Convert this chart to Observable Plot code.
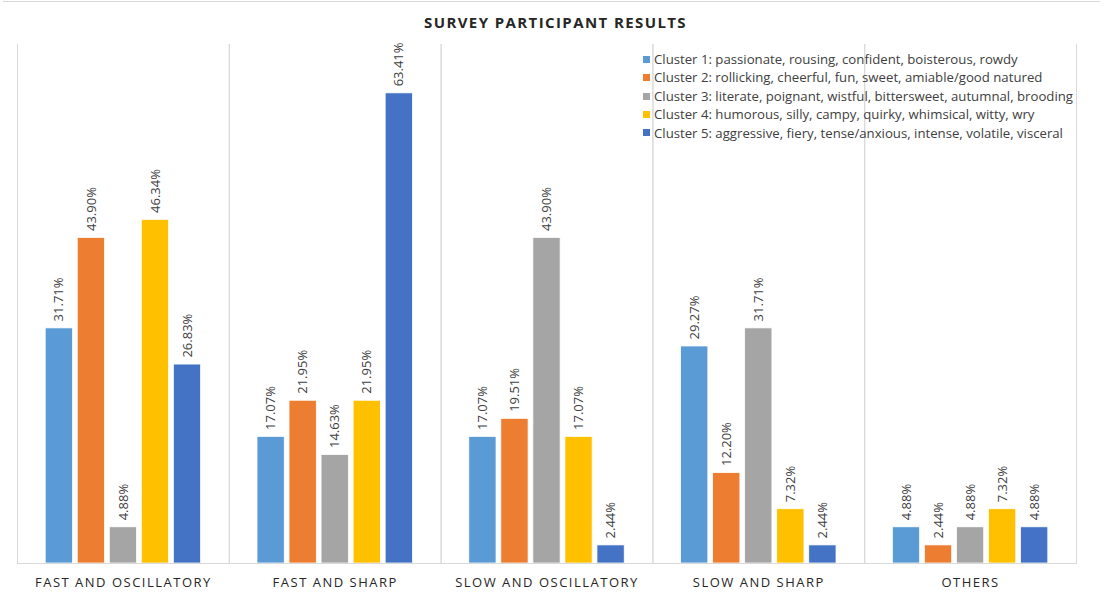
<!DOCTYPE html>
<html>
<head>
<meta charset="utf-8">
<script src="https://cdn.jsdelivr.net/npm/d3@7"></script>
<script src="https://cdn.jsdelivr.net/npm/@observablehq/plot@0.6"></script>
<style>
  html, body { margin: 0; padding: 0; background: #fff; }
  #chart { position: relative; width: 1111px; height: 594px; font-family: "Open Sans", sans-serif; color: #404040; }
  #chart .topline { position: absolute; left: 3px; top: 1px; width: 1097px; border-top: 1px solid #d9d9d9; }
  #chart h1 { margin: 0; height: 40px; line-height: 45px; text-align: center; font-size: 15px; font-weight: 700; letter-spacing: 1.4px; color: #262626; }
  #chart svg { display: block; }
  #chart g[aria-label="fx-axis tick label"] text { letter-spacing: 1.5px; }
  #legend { position: absolute; left: 643px; top: 50px; font-size: 13.2px; line-height: 18.4px; color: #404040; }
  #legend .row { display: flex; align-items: center; white-space: nowrap; }
  #legend .sw { width: 7px; height: 7px; margin-right: 4px; flex: none; }
</style>
</head>
<body>
<div id="chart">
  <div class="topline"></div>
  <h1>SURVEY PARTICIPANT RESULTS</h1>
  <div id="legend"></div>
</div>
<script>
// Movement categories along the x axis
const groups = ["FAST AND OSCILLATORY", "FAST AND SHARP", "SLOW AND OSCILLATORY", "SLOW AND SHARP", "OTHERS"];

// Descriptor clusters (series)
const clusters = [
  "Cluster 1: passionate, rousing, confident, boisterous, rowdy",
  "Cluster 2: rollicking, cheerful, fun, sweet, amiable/good natured",
  "Cluster 3: literate, poignant, wistful, bittersweet, autumnal, brooding",
  "Cluster 4: humorous, silly, campy, quirky, whimsical, witty, wry",
  "Cluster 5: aggressive, fiery, tense/anxious, intense, volatile, visceral"
];

const colors = ["#5B9BD5", "#ED7D31", "#A5A5A5", "#FFC000", "#4472C4"];

// Percent of participants per movement category, one array per cluster
const cluster1 = [31.71, 17.07, 17.07, 29.27, 4.88];
const cluster2 = [43.90, 21.95, 19.51, 12.20, 2.44];
const cluster3 = [4.88, 14.63, 43.90, 31.71, 4.88];
const cluster4 = [46.34, 21.95, 17.07, 7.32, 7.32];
const cluster5 = [26.83, 63.41, 2.44, 2.44, 4.88];

const series = [cluster1, cluster2, cluster3, cluster4, cluster5];
const data = groups.flatMap((group, gi) =>
  clusters.map((cluster, ci) => ({group, cluster, value: series[ci][gi]}))
);

const fmt = d3.format(".2f");

const plot = Plot.plot({
  width: 1111,
  height: 554,
  marginTop: 4,
  marginBottom: 31,
  marginLeft: 17,
  marginRight: 35,
  style: {fontFamily: "'Open Sans', sans-serif", fontSize: "13px", color: "#404040", background: "white"},
  fx: {domain: groups, padding: 0, round: false, label: null},
  x: {domain: clusters, axis: null, round: false, paddingInner: 0.15, paddingOuter: 0.88},
  y: {domain: [0, 70], axis: null},
  color: {domain: clusters, range: colors},
  marks: [
    Plot.frame({anchor: "left", stroke: "#d9d9d9"}),
    Plot.frame({anchor: "right", stroke: "#d9d9d9"}),
    Plot.barY(data, {fx: "group", x: "cluster", y: "value", fill: "cluster", stroke: "white", strokeWidth: 0.75}),
    Plot.ruleY([0], {stroke: "#d9d9d9"}),
    Plot.text(data, {
      fx: "group", x: "cluster", y: "value",
      text: (d) => fmt(d.value) + "%",
      rotate: -90, textAnchor: "start", dy: -7,
      fill: "#404040", fontSize: 13
    }),
    Plot.axisFx({anchor: "bottom", tickSize: 0, tickPadding: 14, label: null, fontSize: 13, fill: "#262626"})
  ]
});

const chart = document.getElementById("chart");
chart.insertBefore(plot, document.getElementById("legend"));

// Legend built from the plot's color scale
const color = plot.scale("color");
const legend = document.getElementById("legend");
color.domain.forEach((name, i) => {
  const row = document.createElement("div");
  row.className = "row";
  const sw = document.createElement("span");
  sw.className = "sw";
  sw.style.background = color.range[i];
  const label = document.createElement("span");
  label.textContent = name;
  row.append(sw, label);
  legend.append(row);
});
</script>
</body>
</html>
